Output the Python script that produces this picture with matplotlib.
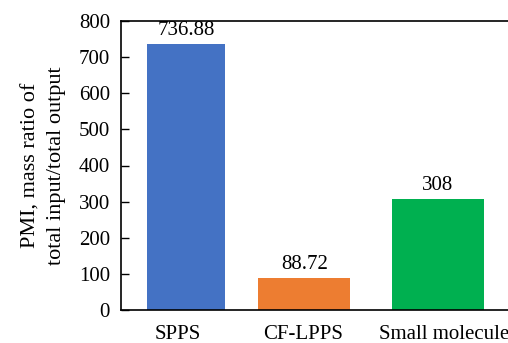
import matplotlib
matplotlib.use("Agg")
import matplotlib.pyplot as plt
import numpy as np

categories = ["SPPS", "CF-LPPS", "Small molecule"]
values = [736.88, 88.72, 308]
value_labels = ["736.88", "88.72", "308"]
yticks = [0, 100, 200, 300, 400, 500, 600, 700, 800]
colors = ["#4472C4", "#ED7D31", "#00B050"]

plt.rcParams["font.family"] = ["Liberation Serif", "DejaVu Serif"]
FS = 15

fig = plt.figure(figsize=(5.08, 3.43), dpi=100)
W, H = 508, 343
ax = fig.add_axes([121 / W, 1 - 310 / H, (508 - 121) / W, (310 - 21) / H])

# layout (bar centres, widths, label positions)
pos = np.array([0.0, 0.94, 2.0])
widths = [0.627, 0.73, 0.73]
label_pos = [-0.067, 0.929, 2.05]

bars = ax.bar(pos, values, width=widths, color=colors)
for b, lab in zip(bars, value_labels):
    ax.annotate(lab, (b.get_x() + b.get_width() / 2, b.get_height()),
                xytext=(0, 2.5), textcoords="offset points",
                ha="center", va="bottom", fontsize=FS)

ax.set_xlim(-0.516, 2.556)
ax.set_ylim(0, 800)
ax.set_yticks(yticks)
ax.set_yticklabels([str(t) for t in yticks], fontsize=FS)
ax.set_xticks(label_pos)
ax.set_xticklabels(categories, fontsize=FS)
ax.tick_params(axis="x", length=0, pad=10.5)
ax.tick_params(axis="y", direction="in", length=6, width=1, pad=8)
for s in ["left", "bottom", "top"]:
    ax.spines[s].set_linewidth(1.2)
ax.spines["right"].set_visible(False)
ax.set_ylabel("PMI, mass ratio of\ntotal input/total output", fontsize=16,
              linespacing=1.5, labelpad=9)

fig.savefig("out.png", dpi=100)
